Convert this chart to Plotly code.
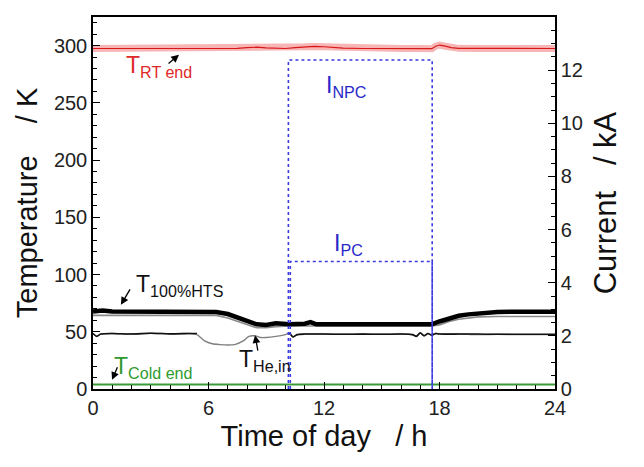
import plotly.graph_objects as go

# ---------------- data ----------------
t_rt = [0, 2, 4, 6, 7.5, 8, 8.5, 9, 9.5, 10, 10.5, 11, 11.5, 12, 12.5, 13, 14, 15, 16, 17,
        17.6, 17.8, 18, 18.3, 18.6, 19, 20, 22, 24]
T_rt = [297.5, 297.5, 297.5, 297.5, 297.6, 298.3, 298.6, 298.0, 297.6, 297.5, 298.2, 299.0,
        299.3, 299.0, 298.4, 297.8, 297.5, 297.5, 297.5, 297.5, 297.3, 299.5, 300.5, 299.5,
        298.2, 297.6, 297.5, 297.5, 297.5]

t_hts = [0, 0.5, 1, 2, 3, 4, 5, 6, 6.4, 7, 7.5, 8, 8.5, 9, 9.5, 10.2, 10.6, 11, 11.3, 11.6,
         12, 13, 14, 15, 16, 17, 17.6, 18, 18.5, 19, 19.5, 20, 20.5, 21, 22, 23, 24]
T_hts = [67.8, 68.5, 67.8, 67.8, 67.6, 67.8, 67.6, 67.5, 67.3, 65.5, 62.5, 59.5, 56.5, 56.0,
         57.5, 56.5, 56.5, 57.0, 58.5, 56.5, 56.5, 56.5, 56.5, 56.3, 56.3, 56.3, 56.5, 59.0,
         62.0, 64.0, 65.2, 66.2, 66.9, 67.3, 67.5, 67.5, 67.5]

t_hts2 = [0, 6.4, 7, 7.5, 8, 8.5, 9, 9.5, 10.2, 17.6, 18, 18.5, 19, 19.5, 20, 21, 22, 24]
T_hts2 = [64.3, 64.3, 62.0, 59.0, 56.0, 53.5, 53.5, 54.5, 55.0, 55.0, 56.0, 59.0, 61.0,
          62.3, 63.0, 63.4, 63.4, 63.4]

t_hein = [0, 0.2, 0.4, 1, 2, 3, 4, 5, 5.4, 5.8, 6.2, 6.6, 7, 7.4, 7.8, 8.1, 8.4, 8.7, 9.0,
          9.5, 10, 10.2, 10.4, 10.6, 11, 12, 13, 14, 15, 16, 16.6, 16.8, 17.0, 17.2, 17.4,
          17.6, 17.8, 18, 19, 20, 21, 22, 23, 24]
T_hein = [48.5, 46.0, 48.0, 48.5, 48.0, 48.7, 48.2, 48.5, 47.5, 42.0, 39.5, 38.8, 38.5, 39.0,
          42.0, 46.0, 46.5, 45.0, 45.0, 46.0, 47.5, 49.0, 45.5, 47.5, 48.0, 48.0, 47.8, 48.0,
          47.8, 48.0, 47.5, 46.0, 49.0, 46.5, 48.5, 47.0, 48.5, 48.0, 48.0, 47.5, 47.8, 47.5,
          47.5, 47.5]

t_out = [0, 0.2, 0.4, 1, 2, 3, 4, 5, 5.4, None, 10.2, 10.4, 10.6, 11, 12, 13, 14, 15, 16,
         16.6, 16.8, 17.0, 17.2, 17.4, 17.6, 17.8, 18, 19, 20, 21, 22, 23, 24]
T_out = [48.5, 46.0, 48.0, 48.5, 48.0, 48.7, 48.2, 48.5, 48.5, None, 49.0, 45.5, 47.5, 48.0,
         48.0, 47.8, 48.0, 47.8, 48.0, 47.5, 46.0, 49.0, 46.5, 48.5, 47.0, 48.5, 48.0, 48.0,
         48.0, 47.8, 47.8, 47.8, 47.8]

t_cold = [0, 6, 12, 18, 24]
T_cold = [4.0, 4.0, 4.0, 4.0, 4.0]

t_npc = [10.15, 10.15, 17.62, 17.62]
I_npc = [0, 12.38, 12.38, 0]
t_pc = [10.25, 10.25, 17.62, 17.62]
I_pc = [0, 4.8, 4.8, 0]

x_ticks = [0, 6, 12, 18, 24]

FONT = "Liberation Sans, Arial, sans-serif"
BLUE = "#3a3ae0"
NB = "\u00a0"

fig = go.Figure()
fig.add_trace(go.Scatter(x=t_rt, y=T_rt, mode="lines", line=dict(color="rgba(245,150,150,0.7)", width=7), hoverinfo="skip"))
fig.add_trace(go.Scatter(x=t_rt, y=T_rt, mode="lines", line=dict(color="#d81818", width=1.2)))
fig.add_trace(go.Scatter(x=t_hts2, y=T_hts2, mode="lines", line=dict(color="#8a8a8a", width=1.6)))
fig.add_trace(go.Scatter(x=t_hts, y=T_hts, mode="lines", line=dict(color="black", width=4.5)))
fig.add_trace(go.Scatter(x=t_hein, y=T_hein, mode="lines", line=dict(color="#808080", width=1.4, shape="spline", smoothing=0.6)))
fig.add_trace(go.Scatter(x=t_out, y=T_out, mode="lines", line=dict(color="#111111", width=1.6, shape="spline", smoothing=0.6), connectgaps=False))
fig.add_trace(go.Scatter(x=t_cold, y=T_cold, mode="lines", line=dict(color="#3a9a3a", width=2)))
fig.add_trace(go.Scatter(x=t_npc, y=I_npc, yaxis="y2", mode="lines", line=dict(color=BLUE, width=1.6, dash="dot")))
fig.add_trace(go.Scatter(x=t_pc, y=I_pc, yaxis="y2", mode="lines", line=dict(color=BLUE, width=1.6, dash="dot")))

def label(x, y, text, color, yref="y"):
    fig.add_annotation(x=x, y=y, xref="x", yref=yref, text=text, showarrow=False,
                       xanchor="left", yanchor="middle",
                       font=dict(family=FONT, size=23, color=color))

def arrow(x, y, ax, ay):
    fig.add_annotation(x=x, y=y, xref="x", yref="y", text="", showarrow=True,
                       ax=ax, ay=ay, arrowhead=2, arrowsize=1.2, arrowwidth=1.3,
                       arrowcolor="black")

label(1.6, 282, "T<sub>RT end</sub>", "#e02828")
label(12.0, 11.4, "I<sub>NPC</sub>", "#2828c8", yref="y2")
label(12.4, 5.42, "I<sub>PC</sub>", "#2828c8", yref="y2")
label(2.15, 90, "T<sub>100%HTS</sub>", "#111111")
label(7.5, 25, "T<sub>He,in</sub>", "#111111")
label(1.0, 19, "T<sub>Cold end</sub>", "#2f9a2f")

arrow(4.47, 292, -12, 10)
arrow(1.45, 73.5, 10, -17)
arrow(8.42, 47, 3, 17)
arrow(0.99, 8, 6, -14)

axis_common = dict(showline=True, linecolor="black", linewidth=1.5, ticks="inside",
                   ticklen=7, tickwidth=1.3, tickcolor="black", showgrid=False,
                   zeroline=False, automargin=False,
                   tickfont=dict(family=FONT, size=20, color="#222"))

# the page body adds an 8 px offset; margins compensate so the plot area sits at 93..555 x 17..389
fig.update_layout(
    width=644, height=467,
    margin=dict(l=85, r=97, t=9, b=86),
    paper_bgcolor="white", plot_bgcolor="white",
    showlegend=False,
    font=dict(family=FONT),
    xaxis=dict(range=[0, 24], tickvals=x_ticks, mirror=True,
               minor=dict(dtick=1, ticks="inside", ticklen=4, tickcolor="black"),
               title=dict(text="Time of day" + NB * 2 + " / h", font=dict(family=FONT, size=29, color="#111"), standoff=8),
               **axis_common),
    yaxis=dict(range=[0, 325], tick0=0, dtick=50,
               minor=dict(dtick=10, ticks="inside", ticklen=4, tickcolor="black"),
               title=dict(text="Temperature" + NB * 3 + " / K", font=dict(family=FONT, size=29, color="#111"), standoff=8),
               **axis_common),
    yaxis2=dict(range=[0, 14], tick0=0, dtick=2, overlaying="y", side="right",
                minor=dict(dtick=0.5, ticks="inside", ticklen=4, tickcolor="black"),
                title=dict(text="Current" + NB * 2 + " / kA", font=dict(family=FONT, size=31, color="#111"), standoff=12),
                **axis_common),
)

fig.write_html("out.html")
